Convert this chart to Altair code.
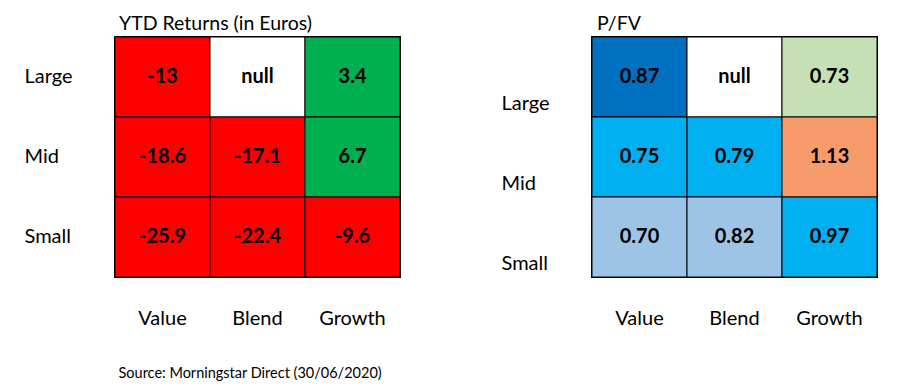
import altair as alt
import pandas as pd

styles = ["Value", "Blend", "Growth"]
sizes = ["Large", "Mid", "Small"]

ytd_values = [-13, None, 3.4,
              -18.6, -17.1, 6.7,
              -25.9, -22.4, -9.6]

pfv_values = [0.87, None, 0.73,
              0.75, 0.79, 1.13,
              0.70, 0.82, 0.97]
pfv_bands = ["dark", "none", "pale",
             "cyan", "cyan", "orange",
             "steel", "steel", "cyan"]

ytd_title = "YTD Returns (in Euros)"
pfv_title = "P/FV"
source_note = "Source: Morningstar Direct (30/06/2020)"

FONT = "Lato"

cell_size = [s for s in sizes for _ in styles]
cell_style = [st for _ in sizes for st in styles]

ytd_df = pd.DataFrame({
    "size": cell_size,
    "style": cell_style,
    "value": ytd_values,
})
ytd_df["label"] = ["null" if v is None else f"{v:g}" for v in ytd_values]
ytd_df["tone"] = ["none" if v is None else ("neg" if v < 0 else "pos") for v in ytd_values]

pfv_df = pd.DataFrame({
    "size": cell_size,
    "style": cell_style,
    "value": pfv_values,
    "tone": pfv_bands,
})
pfv_df["label"] = ["null" if v is None else f"{v:.2f}" for v in pfv_values]


def panel(df, title, dom, rng, label_offset, title_dx, x_title):
    x_axis_kwargs = dict(
        orient="bottom", domain=False, ticks=False, tickSize=0,
        labelPadding=41, labelBaseline="middle", labelAngle=0,
        labelFont=FONT, labelFontSize=20, labelColor="black",
    )
    if x_title:
        x_axis_kwargs.update(
            title=x_title, titleFont=FONT, titleFontSize=14.5,
            titleFontWeight="normal", titleColor="black",
            titleAnchor="start", titleAlign="left", titleBaseline="middle",
            titleX=3, titleY=96,
        )
    else:
        x_axis_kwargs.update(title=None)
    base = alt.Chart(df).encode(
        x=alt.X("style:N", sort=styles,
                scale=alt.Scale(paddingInner=0, paddingOuter=0),
                axis=alt.Axis(**x_axis_kwargs)),
        y=alt.Y("size:N", sort=sizes,
                scale=alt.Scale(paddingInner=0, paddingOuter=0),
                axis=alt.Axis(title=None, domain=False, ticks=False, tickSize=0,
                              labelPadding=91, labelAlign="left",
                              labelOffset=label_offset,
                              labelFont=FONT, labelFontSize=20,
                              labelColor="black")),
    )
    rect = base.mark_rect(stroke="black", strokeWidth=1).encode(
        color=alt.Color("tone:N", scale=alt.Scale(domain=dom, range=rng), legend=None)
    )
    text = base.mark_text(font=FONT, fontSize=20, fontWeight="bold", color="black").encode(
        text="label:N"
    )
    return alt.layer(rect, text).properties(
        width=285, height=240,
        title=alt.TitleParams(title, anchor="start", frame="group", font=FONT,
                              fontSize=19.5, fontWeight="normal", color="black",
                              baseline="bottom", offset=-17, dx=title_dx),
    )


left = panel(ytd_df, ytd_title, ["neg", "pos", "none"],
             ["#FF0000", "#00B050", "#FFFFFF"], 0, 4, source_note)
right = panel(pfv_df, pfv_title,
              ["dark", "cyan", "steel", "pale", "orange", "none"],
              ["#0070C0", "#00B0F0", "#9DC3E6", "#C5E0B4", "#F79B6A", "#FFFFFF"],
              27, 5, None)

chart = alt.hconcat(left, right, spacing=98).resolve_scale(
    color="independent"
).properties(
    padding={"left": 15, "top": 5, "right": 5, "bottom": 2},
    background="white",
).configure_view(stroke="black", strokeWidth=2)

chart.save("out.html", embed_options={"renderer": "svg", "actions": False})
